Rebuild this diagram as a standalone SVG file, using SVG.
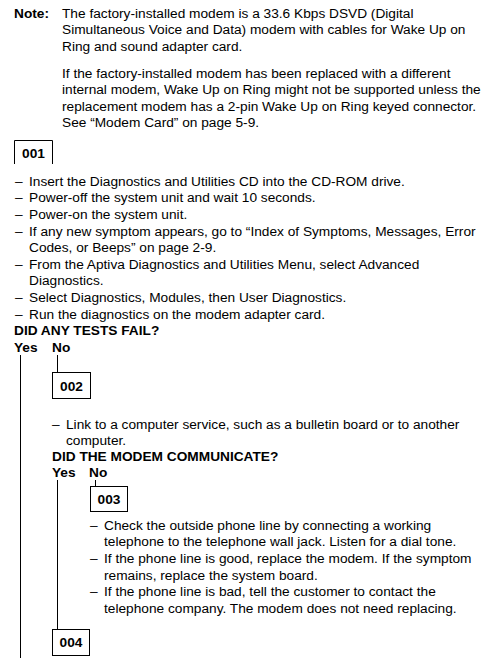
<svg xmlns="http://www.w3.org/2000/svg" width="488" height="658" viewBox="0 0 488 658">
<style>
text{font-family:"Liberation Sans",Arial,sans-serif;font-size:13.7px;fill:#000}
.b{font-weight:bold}
.box{fill:none;stroke:#000;stroke-width:1}
.ln{fill:none;stroke:#000;stroke-width:1}
</style>
<rect width="488" height="658" fill="#fff"/>
<g id="note">
<text class="b" x="14" y="17.5">Note:</text>
<text x="62" y="17.5">The factory-installed modem is a 33.6 Kbps DSVD (Digital</text>
<text x="62" y="34">Simultaneous Voice and Data) modem with cables for Wake Up on</text>
<text x="62" y="50.5">Ring and sound adapter card.</text>
<text x="62" y="77.5">If the factory-installed modem has been replaced with a different</text>
<text x="62" y="94">internal modem, Wake Up on Ring might not be supported unless the</text>
<text x="62" y="110.5">replacement modem has a 2-pin Wake Up on Ring keyed connector.</text>
<text x="62" y="127">See “Modem Card” on page  5-9.</text>
</g>
<g id="step001">
<path class="box" d="M14.5,164 V140.5 H52.5 V164"/>
<text class="b" x="33.5" y="157.5" text-anchor="middle">001</text>
<text x="15" y="185.7">–</text><text x="29" y="185.7">Insert the Diagnostics and Utilities CD into the CD-ROM drive.</text>
<text x="15" y="202.3">–</text><text x="29" y="202.3">Power-off the system unit and wait 10 seconds.</text>
<text x="15" y="218.9">–</text><text x="29" y="218.9">Power-on the system unit.</text>
<text x="15" y="235.5">–</text><text x="29" y="235.5">If any new symptom appears, go to “Index of Symptoms, Messages, Error</text>
<text x="29" y="252.1">Codes, or Beeps” on page  2-9.</text>
<text x="15" y="268.7">–</text><text x="29" y="268.7">From the Aptiva Diagnostics and Utilities Menu, select Advanced</text>
<text x="29" y="285.3">Diagnostics.</text>
<text x="15" y="301.9">–</text><text x="29" y="301.9">Select Diagnostics, Modules, then User Diagnostics.</text>
<text x="15" y="318.5">–</text><text x="29" y="318.5">Run the diagnostics on the modem adapter card.</text>
<text class="b" x="14" y="335.1">DID ANY TESTS FAIL?</text>
<text class="b" x="14" y="351.7">Yes</text>
<text class="b" x="52" y="351.7">No</text>
</g>
<g id="step002">
<rect class="box" x="52.5" y="372.5" width="38" height="26"/>
<text class="b" x="71.5" y="390.5" text-anchor="middle">002</text>
<text x="52" y="429">–</text><text x="66" y="429">Link to a computer service, such as a bulletin board or to another</text>
<text x="66" y="445">computer.</text>
<text class="b" x="52" y="461">DID THE MODEM COMMUNICATE?</text>
<text class="b" x="52" y="477">Yes</text>
<text class="b" x="89" y="477">No</text>
</g>
<g id="step003">
<rect class="box" x="90.5" y="486.5" width="37" height="25"/>
<text class="b" x="109" y="504" text-anchor="middle">003</text>
<text x="90" y="530">–</text><text x="104" y="530">Check the outside phone line by connecting a working</text>
<text x="104" y="546.3">telephone to the telephone wall jack.  Listen for a dial tone.</text>
<text x="90" y="562.9">–</text><text x="104" y="562.9">If the phone line is good, replace the modem. If the symptom</text>
<text x="104" y="579.5">remains, replace the system board.</text>
<text x="90" y="596.1">–</text><text x="104" y="596.1">If the phone line is bad, tell the customer to contact the</text>
<text x="104" y="612.7">telephone company. The modem does not need replacing.</text>
</g>
<g id="step004">
<rect class="box" x="52.5" y="629.5" width="37" height="26"/>
<text class="b" x="71" y="647" text-anchor="middle">004</text>
</g>
<g id="connectors">
<line class="ln" x1="20.5" y1="355" x2="20.5" y2="658"/>
<line class="ln" x1="57.5" y1="355" x2="57.5" y2="372.5"/>
<line class="ln" x1="57.5" y1="480" x2="57.5" y2="629.5"/>
<line class="ln" x1="95.5" y1="480" x2="95.5" y2="486.5"/>
</g>
</svg>
